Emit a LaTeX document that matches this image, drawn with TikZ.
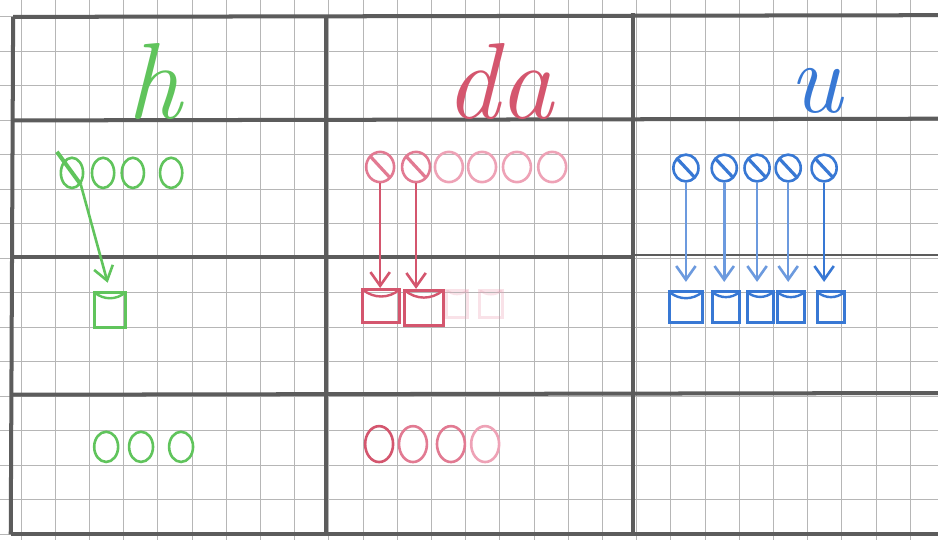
\documentclass[tikz,border=0pt]{standalone}
\usepackage{xcolor}
\usepackage{tikz}
\usetikzlibrary{shapes.geometric,arrows.meta}

\definecolor{gridgray}{RGB}{182,182,182}
\definecolor{rulegray}{RGB}{92,92,92}
\definecolor{pgreen}{RGB}{96,196,92}
\definecolor{pred}{RGB}{212,86,110}
\definecolor{pmid}{RGB}{226,122,146}
\definecolor{ppink}{RGB}{238,162,182}
\definecolor{pblue}{RGB}{56,120,212}
\definecolor{lblue}{RGB}{108,154,222}

\begin{document}
\begin{tikzpicture}[x=0.6cm, y=0.6053cm,
  gridline/.style={gridgray, line width=0.5pt},
  rule/.style={rulegray, line width=2pt},
  letter/.style={font=\fontsize{54}{58}\selectfont\itshape, inner sep=0pt, anchor=base},
  oval/.style={ellipse, draw, line width=1.3pt, inner sep=0pt},
  goval/.style={oval, pgreen, minimum width=3.9mm, minimum height=5.3mm},
  roval/.style={oval, ppink, minimum width=4.9mm, minimum height=5.3mm},
  boval/.style={oval, pblue, minimum width=4.4mm, minimum height=4.7mm},
  crossed/.style={path picture={\draw[line width=1.6pt] (path picture bounding box.north west) -- (path picture bounding box.south east);}},
  cup/.style={rectangle, draw, line width=1.5pt, inner sep=0pt, minimum size=5.3mm,
    path picture={\draw[line width=1.2pt] (path picture bounding box.north west) to[bend right=40] (path picture bounding box.north east);}},
  pencil/.style={line width=1.3pt, -{Straight Barb[length=2.4mm, width=3.4mm]}}]

\path[fill=white, use as bounding box] (-0.614,-0.159) rectangle (26.81,15.49);
\draw[gridline] (-0.614,-0.159) grid[step=1] (26.81,15.49);

% table rules
\draw[rule] (-0.23,15) -- (26.81,15.05);
\draw[rule] (-0.23,12) -- (26.81,12.05);
\draw[rule] (-0.23,8.05) -- (17.95,8.05);
\draw[rule, line width=1.1pt] (17.95,8.1) -- (26.81,8.1);
\draw[rule] (-0.23,4.05) -- (26.81,4.1);
\draw[rule] (-0.3,0) -- (26.81,0);
\draw[rule] (-0.23,15) -- (-0.3,0);
\draw[rule] (8.92,15) -- (8.92,0);
\draw[rule] (17.9,15.1) -- (17.9,0);

% h
\node[letter, text=pgreen] (hlab) at (3.9,12.05) {h};
\node[goval] (g1) at (1.49,10.48) {};
\node[goval] (g2) at (2.40,10.48) {};
\node[goval] (g3) at (3.27,10.48) {};
\node[goval] (g4) at (4.39,10.48) {};
\coordinate (gtail) at (1.05,11.09);
\node[cup, pgreen, minimum width=5.4mm, minimum height=6.1mm] (gbox) at (2.60,6.51) {};
\node[goval, minimum width=4.2mm] (g5) at (2.49,2.54) {};
\node[goval, minimum width=4.2mm] (g6) at (3.51,2.54) {};
\node[goval, minimum width=4.2mm] (g7) at (4.68,2.54) {};

\draw[pgreen, line width=2pt] (gtail) -- (g1.south east);
\draw[pencil, pgreen, shorten >=1.5mm] (g1.south east) -- (gbox.north);

% da
\node[letter, text=pred] (dalab) at (13.98,12.05) {da};
\node[roval, pmid, crossed] (r1) at (10.50,10.65) {};
\node[roval, pmid, crossed] (r2) at (11.55,10.65) {};
\node[roval] (r3) at (12.51,10.65) {};
\node[roval] (r4) at (13.48,10.65) {};
\node[roval] (r5) at (14.50,10.65) {};
\node[roval] (r6) at (15.53,10.65) {};
\node[cup, pred, minimum width=6.5mm, minimum height=5.8mm] (rb1) at (10.53,6.62) {};
\node[cup, pred, minimum width=6.7mm, minimum height=6.1mm] (rb2) at (11.78,6.57) {};
\node[cup, ppink, opacity=0.3, minimum width=3.8mm, minimum height=4.9mm] (rb3) at (12.75,6.68) {};
\node[cup, ppink, opacity=0.3, minimum width=4mm, minimum height=4.9mm] (rb4) at (13.74,6.68) {};
\node[roval, pred, minimum height=6.3mm] (r7) at (10.47,2.62) {};
\node[roval, pmid, minimum height=6.3mm] (r8) at (11.46,2.62) {};
\node[roval, pmid, minimum height=6.3mm] (r9) at (12.57,2.62) {};
\node[roval, ppink, minimum height=6.3mm] (r10) at (13.57,2.62) {};

\draw[pencil, pred] (r1.south) -- (r1.south |- rb1.north);
\draw[pencil, pred] (r2.south) -- (r2.south |- rb2.north);

% u
\node[letter, text=pblue, font=\fontsize{50}{54}\selectfont\itshape] (ulab) at (23.25,12.22) {u};
\node[boval, crossed] (b1) at (19.44,10.62) {};
\node[boval, crossed] (b2) at (20.56,10.62) {};
\node[boval, crossed] (b3) at (21.52,10.62) {};
\node[boval, crossed] (b4) at (22.43,10.62) {};
\node[boval, crossed] (b5) at (23.48,10.62) {};
\node[cup, pblue, minimum width=5.8mm] (bb1) at (19.44,6.59) {};
\node[cup, pblue, minimum width=4.8mm] (bb2) at (20.61,6.59) {};
\node[cup, pblue, minimum width=4.6mm] (bb3) at (21.61,6.59) {};
\node[cup, pblue, minimum width=4.8mm] (bb4) at (22.51,6.59) {};
\node[cup, pblue, minimum width=4.8mm] (bb5) at (23.68,6.59) {};

\draw[pencil, lblue, shorten >=1.5mm] (b1.south) -- (b1.south |- bb1.north);
\draw[pencil, lblue, shorten >=1.5mm] (b2.south) -- (b2.south |- bb2.north);
\draw[pencil, lblue, shorten >=1.5mm] (b3.south) -- (b3.south |- bb3.north);
\draw[pencil, lblue, shorten >=1.5mm] (b4.south) -- (b4.south |- bb4.north);
\draw[pencil, pblue, shorten >=1.5mm] (b5.south) -- (b5.south |- bb5.north);
\end{tikzpicture}
\end{document}
